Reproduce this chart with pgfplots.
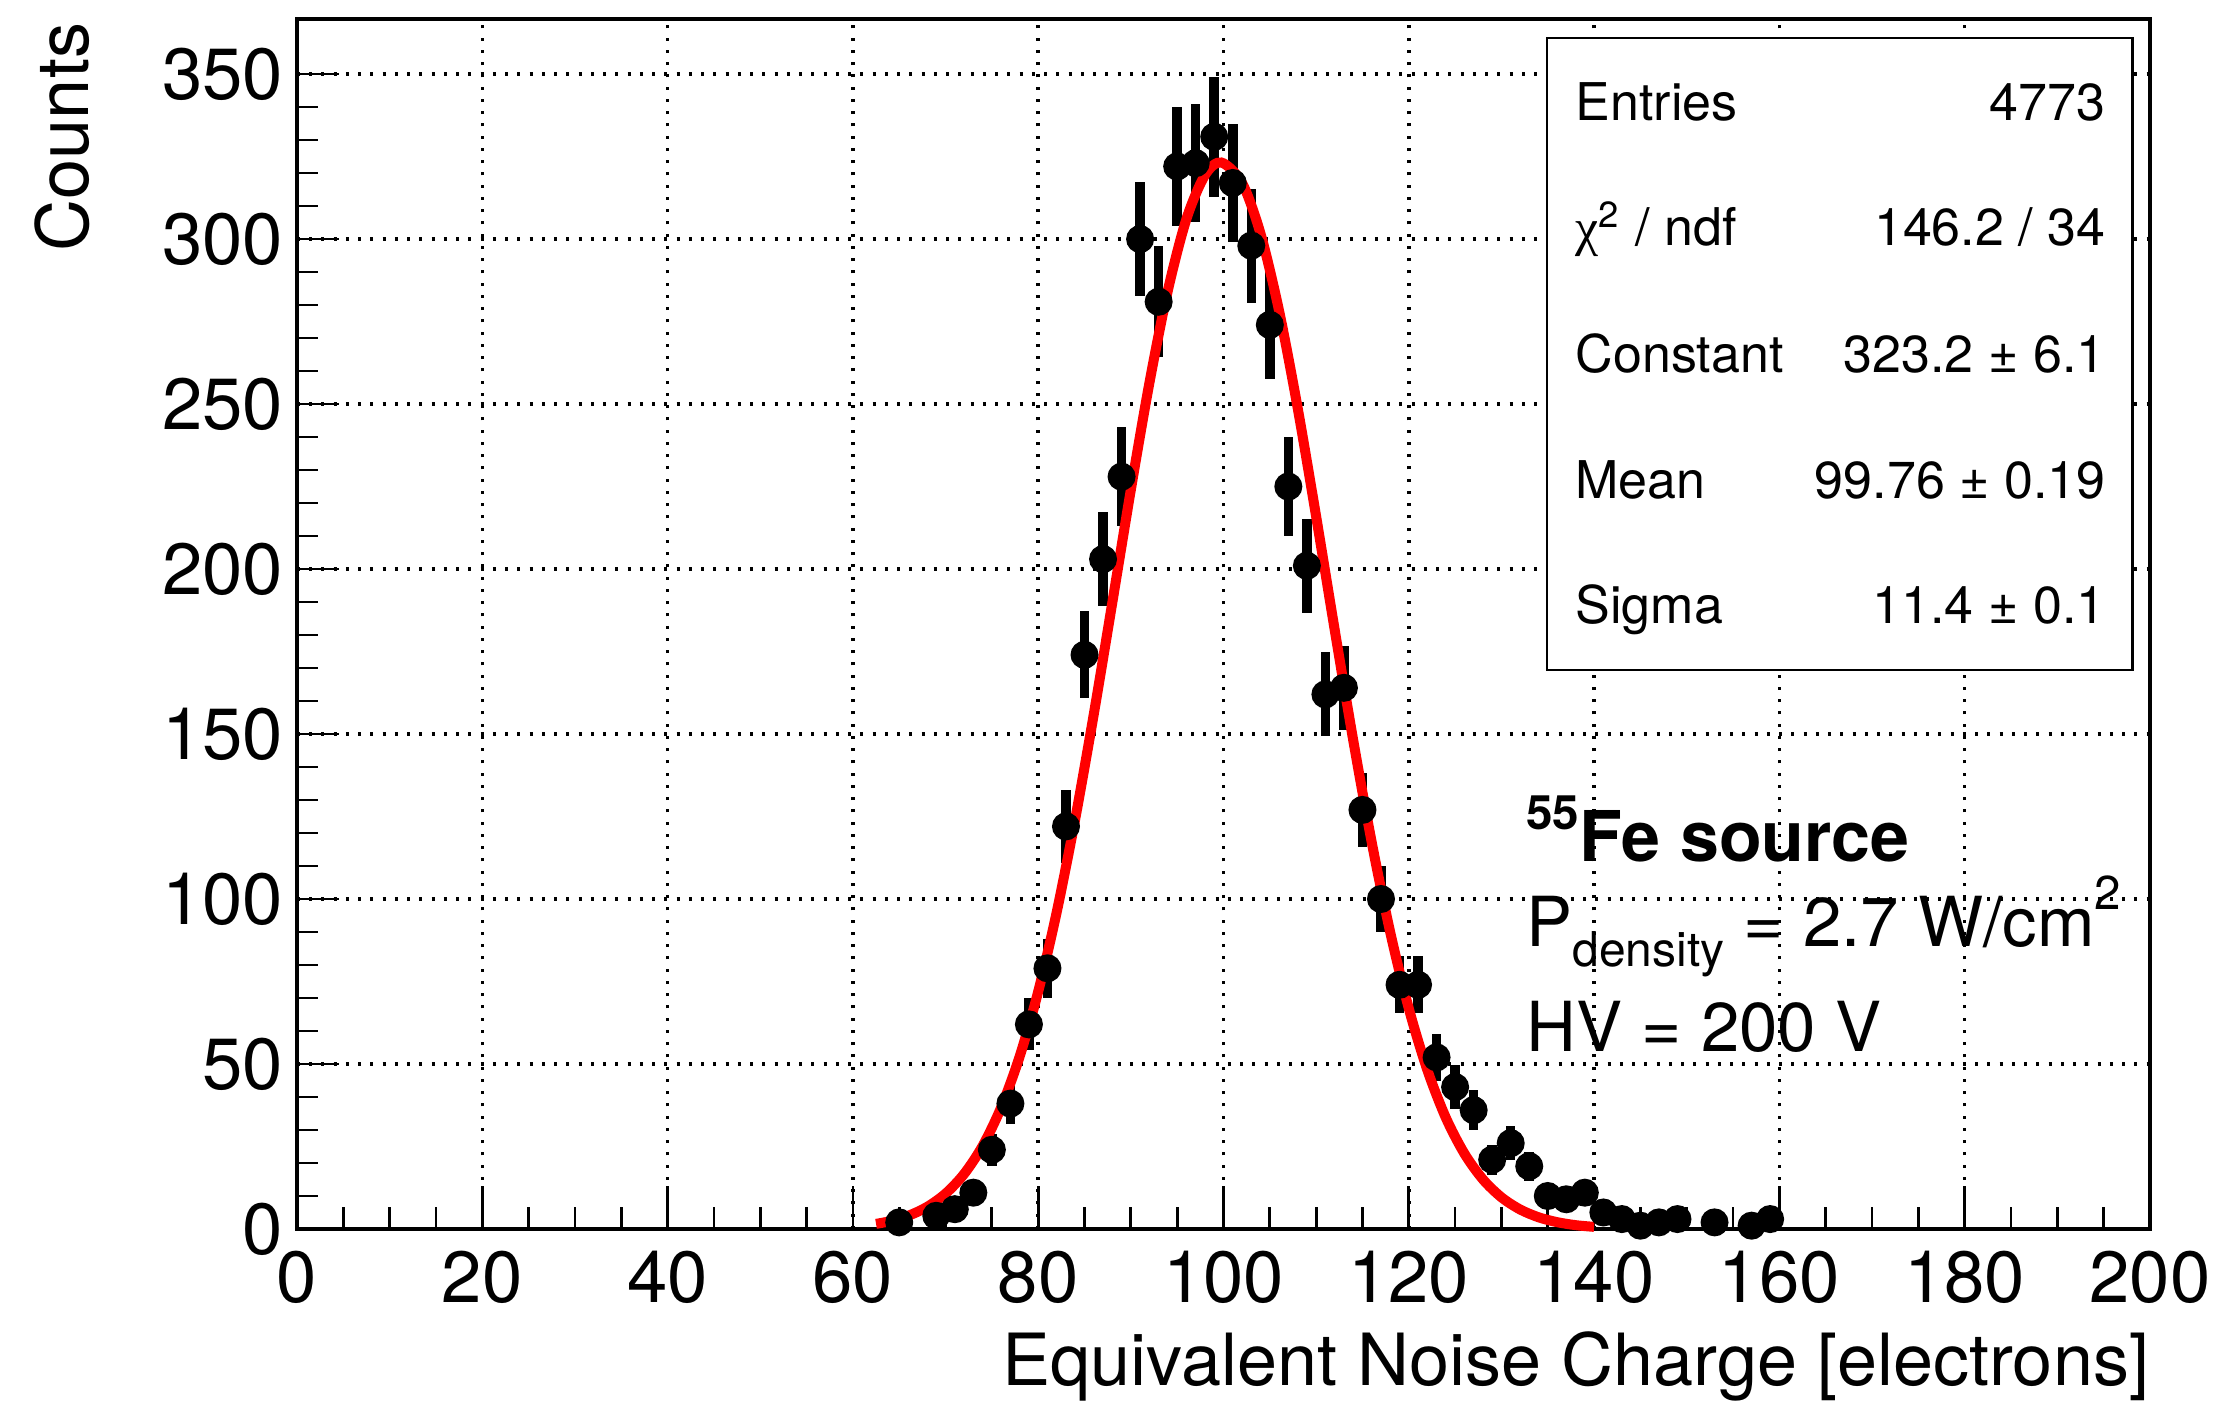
\documentclass[border=0pt]{standalone}
\usepackage{fontspec}
\setmainfont{TeX Gyre Heros}
\newfontfamily\symfont{Liberation Serif}
\usepackage{pgfplots}
\pgfplotsset{compat=1.18}

\begin{document}
\begin{tikzpicture}
\begin{axis}[
  at={(0,0)}, anchor=south west,
  scale only axis, width=370.6pt, height=242pt,
  xmin=0, xmax=200, ymin=0, ymax=366.7,
  xtick distance=20, minor x tick num=3,
  ytick distance=50, minor y tick num=4,
  xtick pos=bottom, ytick pos=left, tick align=inside,
  major tick length=8.5pt, minor tick length=4.3pt,
  every tick/.style={black, line width=0.55pt},
  axis line style={line width=0.66pt},
  grid=major,
  major grid style={black, line width=0.7pt, dash pattern=on 0.6pt off 1.85pt},
  /pgf/number format/assume math mode=true,
  tick label style={font=\fontsize{14.5}{17}\selectfont},
  xticklabel style={inner sep=0pt, yshift=-4.2pt},
  yticklabel style={inner sep=0pt, xshift=-2.6pt},
  clip=false,
]
% stats box
\draw[fill=white, line width=0.5pt] (axis cs:134.9,169.4) rectangle (axis cs:198.1,360.9);

\addplot[only marks, mark=*, mark size=2.6pt, black,
  error bars/.cd, y dir=both, y explicit, error mark=none,
  error bar style={line width=1.9pt}]
  table[x=x, y=y, y error=e] {
x y e
65 2 1.41
69 4 2.00
71 6 2.45
73 11 3.32
75 24 4.90
77 38 6.16
79 62 7.87
81 79 8.89
83 122 11.05
85 174 13.19
87 203 14.25
89 228 15.10
91 300 17.32
93 281 16.76
95 322 17.94
97 323 17.97
99 331 18.19
101 317 17.80
103 298 17.26
105 274 16.55
107 225 15.00
109 201 14.18
111 162 12.73
113 164 12.81
115 127 11.27
117 100 10.00
119 74 8.60
121 74 8.60
123 52 7.21
125 43 6.56
127 36 6.00
129 21 4.58
131 26 5.10
133 19 4.36
135 10 3.16
137 9 3.00
139 11 3.32
141 5 2.24
143 3 1.73
145 1 1.00
147 2 1.41
149 3 1.73
153 2 1.41
157 1 1.00
159 3 1.73
};

% gaussian fit
\addplot[red, line width=2pt, smooth, no markers] coordinates {
(62.5,1.55) (64,2.36) (66,4.03) (68,6.67) (70,10.71) (72,16.67) (74,25.16)
(76,36.83) (78,52.29) (80,71.95) (82,96.04) (84,124.30) (86,156.01)
(88,189.84) (90,224.02) (92,256.36) (94,284.47) (96,306.09) (98,319.37)
(99.76,323.2) (102,317.02) (104,301.60) (106,278.24) (108,248.90)
(110,215.92) (112,181.61) (114,148.14) (116,117.16) (118,89.86)
(120,66.83) (122,48.20) (124,33.70) (126,22.86) (128,15.03) (130,9.59)
(132,5.93) (134,3.55) (136,2.07) (138,1.16) (140,0.64)
};

\begin{scope}[every node/.style={inner sep=0pt, font=\fontsize{10.4}{12}\selectfont}]
\node[anchor=base west] at (axis cs:137.9,335.8) {Entries};
\node[anchor=base east] at (axis cs:195.3,335.8) {4773};
\node[anchor=base west] at (axis cs:137.9,298.0) {{\symfont χ}\textsuperscript{2} / ndf};
\node[anchor=base east] at (axis cs:195.3,298.0) {146.2 / 34};
\node[anchor=base west] at (axis cs:137.9,259.7) {Constant};
\node[anchor=base east] at (axis cs:195.3,259.7) {323.2 ± 6.1};
\node[anchor=base west] at (axis cs:137.9,221.4) {Mean};
\node[anchor=base east] at (axis cs:195.3,221.4) {99.76 ± 0.19};
\node[anchor=base west] at (axis cs:137.9,183.6) {Sigma};
\node[anchor=base east] at (axis cs:195.3,183.6) {11.4 ± 0.1};
\end{scope}

\node[anchor=base west, inner sep=0pt, font=\bfseries\fontsize{14}{16}\selectfont]
  at (axis cs:132.6,111.3) {\raisebox{6.5pt}{\fontsize{9.5}{11}\selectfont 55}Fe source};
\node[anchor=base west, inner sep=0pt, font=\fontsize{13.8}{16}\selectfont]
  at (axis cs:132.6,85.5) {P\raisebox{-4pt}{\fontsize{9.6}{11}\selectfont density} = 2.7 W/cm\raisebox{7.5pt}{\fontsize{9.5}{11}\selectfont 2}};
\node[anchor=base west, inner sep=0pt, font=\fontsize{13.8}{16}\selectfont]
  at (axis cs:132.6,53.7) {HV = 200 V};
\end{axis}

\node[rotate=90, anchor=east, inner sep=0pt, font=\fontsize{14.4}{17}\selectfont]
  at (-47pt,241.4pt) {Counts};
\node[anchor=base east, inner sep=0pt, font=\fontsize{14.4}{17}\selectfont]
  at (370.6pt,-31.4pt) {Equivalent Noise Charge [electrons]};

\pgfresetboundingbox
\path[use as bounding box] (-59.4pt,-34.6pt) rectangle (385.6pt,245.8pt);
\end{tikzpicture}
\end{document}
